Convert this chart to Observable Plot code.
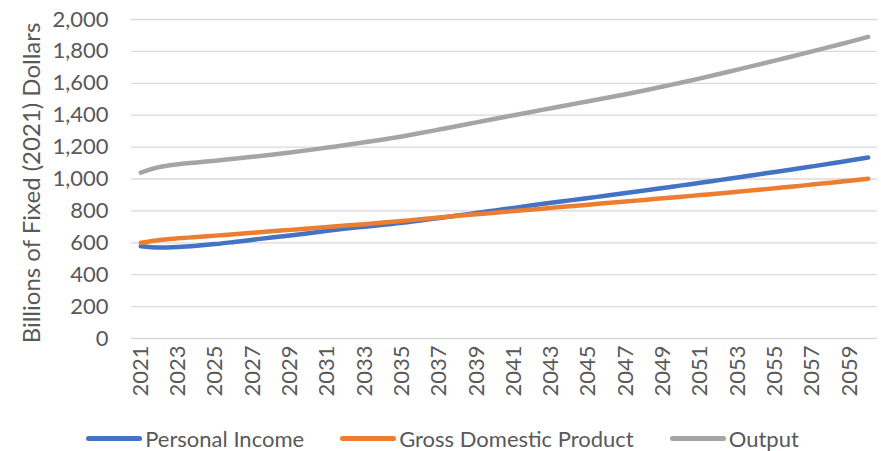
<!DOCTYPE html>
<html>
<head>
<meta charset="utf-8">
<script src="https://cdn.jsdelivr.net/npm/d3@7"></script>
<script src="https://cdn.jsdelivr.net/npm/@observablehq/plot@0.6"></script>
<style>
  html, body { margin: 0; padding: 0; background: #fff; }
  #chart { width: 881px; }
  .legend { display: flex; justify-content: center; align-items: center; font-family: Lato, sans-serif; font-size: 22px; line-height: 25px; color: #595959; height: 25px; margin-top: 12px; margin-left: 4px; }
  .legend .item { display: flex; align-items: center; margin: 0 18px; }
  .legend .sw { width: 56px; height: 5px; border-radius: 3px; margin-right: 3px; }
</style>
</head>
<body>
<div id="chart"></div>
<script>
const years = d3.range(2021, 2061);
const personalIncome = [578, 570, 574, 582, 592, 605, 619, 633, 646, 660, 675, 689, 701, 713, 725, 740, 755, 771, 787, 803, 819, 835, 851, 866, 881, 896, 912, 928, 944, 960, 976, 993, 1010, 1027, 1044, 1061, 1079, 1097, 1116, 1135];
const gdp = [600, 618, 628, 636, 645, 654, 663, 672, 681, 690, 699, 708, 717, 727, 737, 747, 758, 769, 779, 789, 799, 809, 819, 829, 839, 849, 859, 869, 879, 889, 899, 909, 920, 931, 942, 953, 965, 977, 989, 1001];
const output = [1040, 1075, 1092, 1104, 1115, 1127, 1139, 1152, 1166, 1181, 1197, 1213, 1230, 1248, 1267, 1288, 1310, 1332, 1355, 1378, 1400, 1422, 1444, 1466, 1488, 1509, 1531, 1555, 1580, 1605, 1631, 1658, 1686, 1714, 1742, 1771, 1800, 1830, 1860, 1891];
const seriesNames = ["Personal Income", "Gross Domestic Product", "Output"];
const seriesColors = ["#4472C4", "#ED7D31", "#A5A5A5"];
const yTicks = [0, 200, 400, 600, 800, 1000, 1200, 1400, 1600, 1800, 2000];
const xTicks = d3.range(2021, 2061, 2);
const yLabel = "Billions of Fixed (2021) Dollars";

const seriesValues = [personalIncome, gdp, output];
const data = [];
seriesNames.forEach((name, i) => {
  years.forEach((yr, j) => data.push({series: name, year: yr, value: seriesValues[i][j]}));
});

const plot = Plot.plot({
  width: 881,
  height: 414,
  marginLeft: 131,
  marginRight: 4,
  marginTop: 19,
  marginBottom: 76,
  style: {fontFamily: "Lato, sans-serif", fontSize: "22px", color: "#595959", background: "#fff"},
  x: {domain: [2020.5, 2060.5], ticks: xTicks},
  y: {domain: [0, 2000], ticks: yTicks},
  color: {domain: seriesNames, range: seriesColors},
  marks: [
    Plot.gridY(yTicks, {stroke: "#d9d9d9", strokeOpacity: 1, strokeWidth: 1.3}),
    Plot.axisY({ticks: yTicks, tickSize: 0, tickPadding: 23, tickFormat: d3.format(","), label: null, fontSize: 22}),
    Plot.text([yLabel], {frameAnchor: "left", text: d => d, rotate: -90, dx: -99, dy: 4, textAnchor: "middle", lineAnchor: "middle", fontSize: 24, fill: "#595959"}),
    Plot.axisX({ticks: xTicks, tickSize: 0, tickPadding: 7, tickRotate: -90, tickFormat: d => String(d), label: null, fontSize: 22, letterSpacing: 0.5}),
    Plot.line(data, {x: "year", y: "value", z: "series", stroke: "series", strokeWidth: 4.5, strokeLinecap: "round", strokeLinejoin: "round", curve: "monotone-x"})
  ]
});
document.getElementById("chart").appendChild(plot);

const legend = document.createElement("div");
legend.className = "legend";
seriesNames.forEach((name, i) => {
  const item = document.createElement("div");
  item.className = "item";
  const sw = document.createElement("span");
  sw.className = "sw";
  sw.style.background = seriesColors[i];
  const t = document.createElement("span");
  t.textContent = name;
  item.appendChild(sw);
  item.appendChild(t);
  legend.appendChild(item);
});
document.getElementById("chart").appendChild(legend);
</script>
</body>
</html>
